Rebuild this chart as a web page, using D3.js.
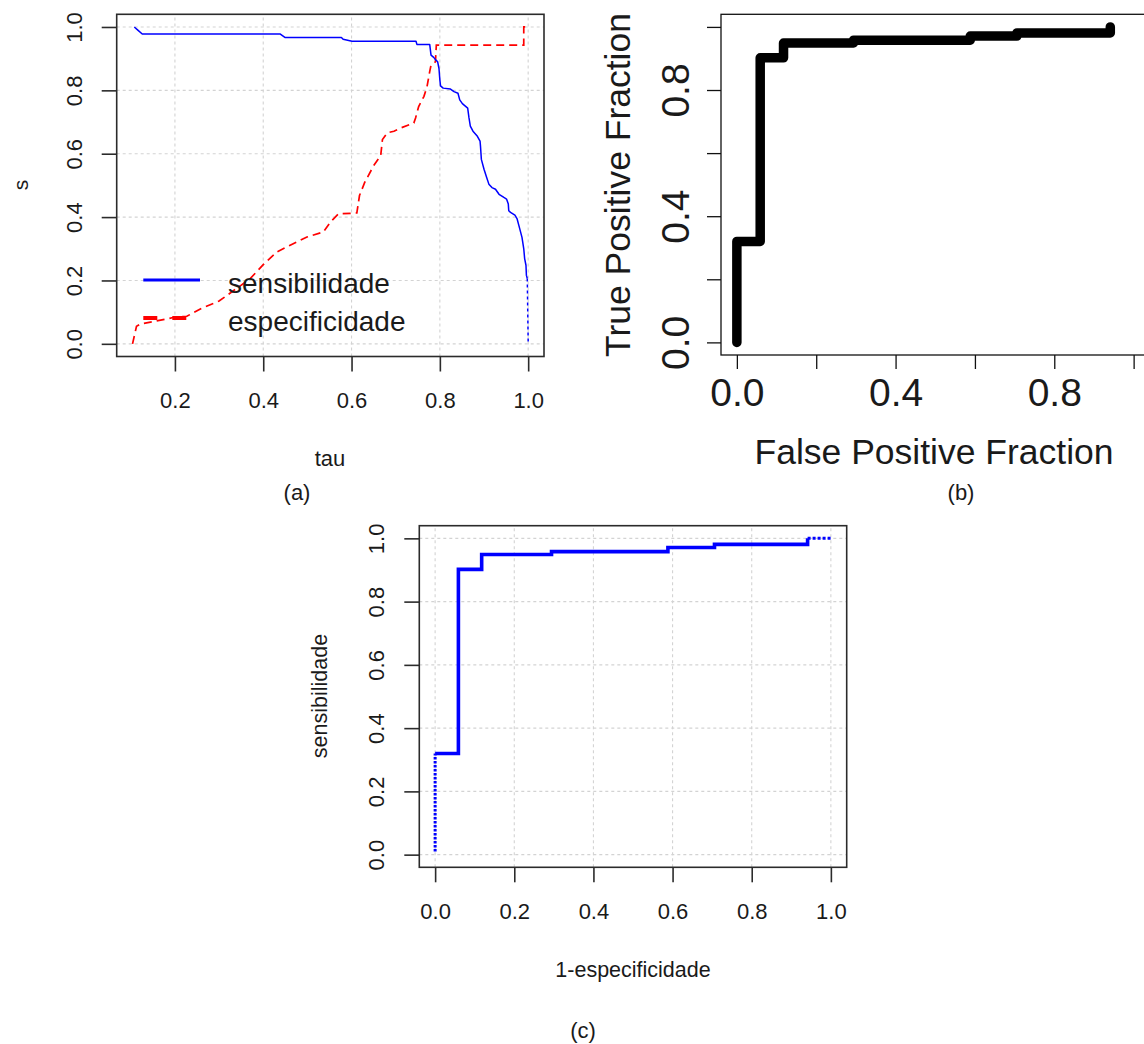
<!DOCTYPE html>
<html>
<head>
<meta charset="utf-8">
<script src="https://cdn.jsdelivr.net/npm/d3@7/dist/d3.min.js"></script>
<style>
  html, body { margin: 0; padding: 0; background: #fff; }
  svg { display: block; }
  text { font-family: "Liberation Sans", Arial, Helvetica, sans-serif; fill: #1a1a1a; }
</style>
</head>
<body>
<svg id="fig" width="1144" height="1044"></svg>
<script>
// ---- data -------------------------------------------------------------
// (a) sensitivity and specificity as functions of the cut-off tau
const tauSens = [0.108, 0.116, 0.126, 0.438, 0.449, 0.577, 0.581, 0.601, 0.746, 0.748,
                 0.777, 0.780, 0.786, 0.790, 0.795, 0.798, 0.800, 0.8015, 0.8075, 0.824,
                 0.832, 0.841, 0.845, 0.851, 0.863, 0.866, 0.869, 0.875, 0.885, 0.891,
                 0.892, 0.894, 0.900, 0.906, 0.911, 0.918, 0.926, 0.934, 0.945, 0.951,
                 0.955, 0.956, 0.960, 0.970, 0.975, 0.979, 0.986, 0.990, 0.992, 0.995,
                 0.996, 0.998, 1.000];
const sensibilidade = [1.000, 0.990, 0.978, 0.978, 0.967, 0.967, 0.961, 0.955, 0.955, 0.945,
                       0.945, 0.911, 0.904, 0.897, 0.890, 0.869, 0.833, 0.814, 0.807, 0.804,
                       0.796, 0.791, 0.770, 0.758, 0.744, 0.713, 0.687, 0.671, 0.655, 0.640,
                       0.624, 0.582, 0.551, 0.525, 0.504, 0.493, 0.488, 0.472, 0.462, 0.457,
                       0.441, 0.420, 0.415, 0.406, 0.394, 0.373, 0.336, 0.300, 0.269, 0.248,
                       0.216, 0.206, 0.007];

const tauSpec = [0.104, 0.113, 0.121, 0.158, 0.196, 0.227, 0.260, 0.300, 0.330, 0.370,
                 0.400, 0.431, 0.461, 0.499, 0.536, 0.552, 0.570, 0.612, 0.618, 0.630,
                 0.650, 0.666, 0.670, 0.681, 0.696, 0.711, 0.741, 0.745, 0.752, 0.764,
                 0.771, 0.777, 0.780, 0.786, 0.790, 0.792, 0.990, 0.990, 1.000];
const especificidade = [0.000, 0.055, 0.062, 0.072, 0.083, 0.087, 0.112, 0.135, 0.165, 0.205,
                        0.250, 0.290, 0.311, 0.337, 0.353, 0.384, 0.410, 0.413, 0.468, 0.510,
                        0.562, 0.594, 0.645, 0.666, 0.671, 0.681, 0.697, 0.713, 0.749, 0.781,
                        0.812, 0.859, 0.880, 0.885, 0.890, 0.943, 0.943, 1.000, 1.000];

// (b), (c) ROC curve: false positive fraction vs true positive fraction
const fpr = [0, 0, 0.0588, 0.1176, 0.2941, 0.5882, 0.7059, 0.9412, 1.0];
const tpr = [0.01, 0.32, 0.902, 0.949, 0.958, 0.971, 0.981, 1.0, 1.0];

// axis ticks
const ticks01 = [0, 0.2, 0.4, 0.6, 0.8, 1.0];
const tickLabels01 = ["0.0", "0.2", "0.4", "0.6", "0.8", "1.0"];
const tauTicks = [0.2, 0.4, 0.6, 0.8, 1.0];
const tauTickLabels = ["0.2", "0.4", "0.6", "0.8", "1.0"];
const rocLabelTicks = [0, 0.4, 0.8];
const rocTickLabels = ["0.0", "0.4", "0.8"];

const legendLabels = ["sensibilidade", "especificidade"];

// ---- helpers ------------------------------------------------------------
const svg = d3.select("#fig");
svg.append("rect").attr("width", 1144).attr("height", 1044).attr("fill", "#fff");

function pad(lo, hi) { const d = (hi - lo) * 0.04; return [lo - d, hi + d]; }

function grid(g, x, y, xt, yt) {
  const [x0, x1] = x.range(), [y0, y1] = y.range();
  g.selectAll(null).data(xt).join("line")
    .attr("x1", d => x(d)).attr("x2", d => x(d))
    .attr("y1", y0).attr("y2", y1)
    .attr("stroke", "#d3d3d3").attr("stroke-width", 1.1).attr("stroke-dasharray", "3,3");
  g.selectAll(null).data(yt).join("line")
    .attr("y1", d => y(d)).attr("y2", d => y(d))
    .attr("x1", x0).attr("x2", x1)
    .attr("stroke", "#d3d3d3").attr("stroke-width", 1.1).attr("stroke-dasharray", "3,3");
}

function axes(g, x, y, opt) {
  const xAxis = d3.axisBottom(x).tickValues(opt.xTicks).tickSize(opt.tick).tickSizeOuter(0)
    .tickFormat((d) => { const i = opt.xLabelTicks.indexOf(d); return i < 0 ? "" : opt.xLabels[i]; })
    .tickPadding(opt.xPad);
  const yAxis = d3.axisLeft(y).tickValues(opt.yTicks).tickSize(opt.tick).tickSizeOuter(0)
    .tickFormat((d) => { const i = opt.yLabelTicks.indexOf(d); return i < 0 ? "" : opt.yLabels[i]; });

  const gx = g.append("g").attr("transform", `translate(0,${y.range()[0]})`).call(xAxis);
  gx.select(".domain").remove();
  gx.selectAll(".tick line").attr("stroke", opt.col).attr("stroke-width", opt.lw);
  gx.selectAll(".tick text").attr("font-size", opt.fs).attr("fill", "#1a1a1a")
    .attr("font-family", "'Liberation Sans', Arial, sans-serif");

  const gy = g.append("g").attr("transform", `translate(${x.range()[0]},0)`).call(yAxis);
  gy.select(".domain").remove();
  gy.selectAll(".tick line").attr("stroke", opt.col).attr("stroke-width", opt.lw);
  gy.selectAll(".tick text")
    .attr("font-size", opt.fs).attr("fill", "#1a1a1a")
    .attr("font-family", "'Liberation Sans', Arial, sans-serif")
    .attr("x", null).attr("dy", null)
    .attr("text-anchor", "middle").attr("dominant-baseline", "central")
    .attr("transform", `translate(${-opt.yPad},0) rotate(-90)`);

  const [x0, x1] = x.range(), [y0, y1] = y.range();
  g.append("rect").attr("x", x0).attr("y", y1).attr("width", x1 - x0).attr("height", y0 - y1)
    .attr("fill", "none").attr("stroke", opt.col).attr("stroke-width", opt.lw);
}

function title(g, txt, cx, cy, fs, rot) {
  g.append("text").text(txt).attr("font-size", fs)
    .attr("text-anchor", "middle").attr("dominant-baseline", "central")
    .attr("transform", `translate(${cx},${cy})` + (rot ? " rotate(-90)" : ""));
}

// ---- (a) sensibilidade / especificidade vs tau -----------------------------
{
  const g = svg.append("g");
  const x = d3.scaleLinear().domain(pad(0.104, 1.0)).range([116.7, 544]);
  const y = d3.scaleLinear().domain(pad(0, 1)).range([356.5, 14.3]);
  grid(g, x, y, tauTicks, ticks01);

  const line = d3.line().x(d => x(d[0])).y(d => y(d[1]));
  const specPts = tauSpec.map((t, i) => [t, especificidade[i]]);
  const sensPts = tauSens.map((t, i) => [t, sensibilidade[i]]);

  g.append("path").attr("d", line(specPts)).attr("fill", "none")
    .attr("stroke", "#ff0000").attr("stroke-width", 1.7).attr("stroke-dasharray", "8,5");
  // solid part of the sensitivity curve, thin last drop to zero
  g.append("path").attr("d", line(sensPts.slice(0, -1))).attr("fill", "none")
    .attr("stroke", "#0000ff").attr("stroke-width", 1.5).attr("stroke-linejoin", "round");
  g.append("path").attr("d", line(sensPts.slice(-2))).attr("fill", "none")
    .attr("stroke", "#0000ff").attr("stroke-width", 1.5).attr("stroke-dasharray", "3,3");

  axes(g, x, y, {
    xTicks: tauTicks, xLabelTicks: tauTicks, xLabels: tauTickLabels,
    yTicks: ticks01, yLabelTicks: ticks01, yLabels: tickLabels01,
    tick: 15, xPad: 21, yPad: 42, fs: 22, col: "#2b2b2b", lw: 1.6
  });

  // legend
  const lx0 = 143.3, lx1 = 200;
  const ly = [280, 318];
  g.append("line").attr("x1", lx0).attr("x2", lx1).attr("y1", ly[0]).attr("y2", ly[0])
    .attr("stroke", "#0000ff").attr("stroke-width", 3.2);
  g.append("line").attr("x1", lx0).attr("x2", lx1).attr("y1", ly[1]).attr("y2", ly[1])
    .attr("stroke", "#ff0000").attr("stroke-width", 4).attr("stroke-dasharray", "14,15");
  legendLabels.forEach((t, i) => {
    g.append("text").text(t).attr("x", 228).attr("y", ly[i] + 3)
      .attr("font-size", 28).attr("dominant-baseline", "central");
  });

  title(g, "s", 20, 185, 21, true);
  title(g, "tau", 330, 458, 22, false);
  title(g, "(a)", 297, 492, 22, false);
}

// ---- (b) ROC curve, thick black ----------------------------------------
{
  const g = svg.append("g");
  const x = d3.scaleLinear().domain(pad(0, 1)).range([721, 1149.5]);
  const y = d3.scaleLinear().domain(pad(0, 1)).range([355, 14.3]);

  const pts = fpr.slice(0, -1).map((f, i) => [f, i === 0 ? 0 : tpr[i]]);
  g.append("path")
    .attr("d", d3.line().x(d => x(d[0])).y(d => y(d[1])).curve(d3.curveStepAfter)(pts))
    .attr("fill", "none").attr("stroke", "#000").attr("stroke-width", 9.5)
    .attr("stroke-linejoin", "round").attr("stroke-linecap", "round");

  axes(g, x, y, {
    xTicks: ticks01, xLabelTicks: rocLabelTicks, xLabels: rocTickLabels,
    yTicks: ticks01, yLabelTicks: rocLabelTicks, yLabels: rocTickLabels,
    tick: 14, xPad: 9, yPad: 46, fs: 39, col: "#111", lw: 1.3
  });

  title(g, "True Positive Fraction", 618, 185, 35.5, true);
  title(g, "False Positive Fraction", 934, 452, 35.5, false);
  title(g, "(b)", 961, 492, 22, false);
}

// ---- (c) ROC curve, blue step line -----------------------------------------
{
  const g = svg.append("g");
  const x = d3.scaleLinear().domain(pad(0, 1)).range([419.3, 846.7]);
  const y = d3.scaleLinear().domain(pad(0, 1)).range([867.3, 525.7]);
  grid(g, x, y, ticks01, ticks01);

  const pts = fpr.map((f, i) => [f, tpr[i]]);
  const step = d3.line().x(d => x(d[0])).y(d => y(d[1])).curve(d3.curveStepAfter);
  // first vertical run and last horizontal run are dotted, the rest solid
  g.append("path").attr("d", step(pts.slice(1, -1))).attr("fill", "none")
    .attr("stroke", "#0000ff").attr("stroke-width", 3.6).attr("stroke-linejoin", "miter");
  g.append("path").attr("d", step(pts.slice(0, 2))).attr("fill", "none")
    .attr("stroke", "#0000ff").attr("stroke-width", 3).attr("stroke-dasharray", "2.5,1.5");
  g.append("path").attr("d", step(pts.slice(-2))).attr("fill", "none")
    .attr("stroke", "#0000ff").attr("stroke-width", 3).attr("stroke-dasharray", "3,2");

  axes(g, x, y, {
    xTicks: ticks01, xLabelTicks: ticks01, xLabels: tickLabels01,
    yTicks: ticks01, yLabelTicks: ticks01, yLabels: tickLabels01,
    tick: 15, xPad: 21, yPad: 43, fs: 22, col: "#2b2b2b", lw: 1.6
  });

  title(g, "sensibilidade", 320, 696, 21.5, true);
  title(g, "1-especificidade", 633, 970, 21.5, false);
  title(g, "(c)", 583, 1030, 22, false);
}
</script>
</body>
</html>
